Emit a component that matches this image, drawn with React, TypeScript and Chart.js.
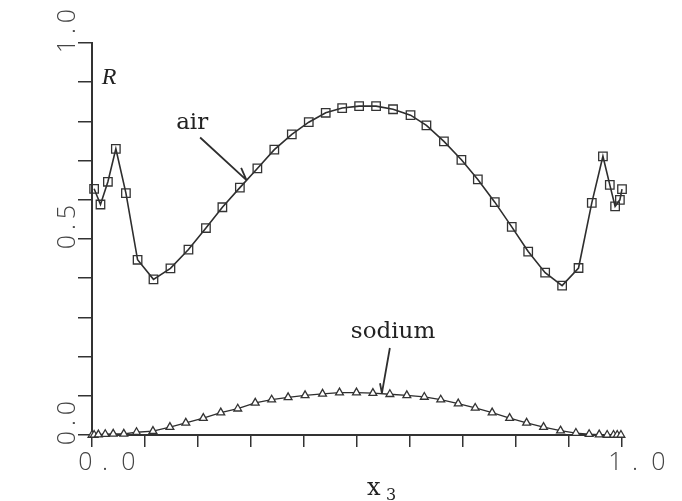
import React, { useEffect, useRef } from "react";
import { Chart, registerables } from "chart.js";

Chart.register(...registerables);

// ---- data ----
const airX = [0.004, 0.016, 0.030, 0.045, 0.064, 0.086, 0.116, 0.148, 0.182, 0.215, 0.246, 0.279, 0.312, 0.344, 0.377, 0.409, 0.441, 0.472, 0.504, 0.536, 0.568, 0.601, 0.631, 0.664, 0.697, 0.728, 0.760, 0.792, 0.823, 0.855, 0.887, 0.918, 0.943, 0.964, 0.977, 0.987, 0.996, 1.0];
const airR = [0.628, 0.588, 0.646, 0.730, 0.617, 0.447, 0.397, 0.425, 0.473, 0.528, 0.581, 0.631, 0.680, 0.728, 0.767, 0.798, 0.822, 0.834, 0.839, 0.839, 0.831, 0.816, 0.790, 0.749, 0.702, 0.652, 0.594, 0.531, 0.468, 0.414, 0.381, 0.426, 0.592, 0.711, 0.638, 0.583, 0.600, 0.627];

const sodiumX = [0.0, 0.004, 0.012, 0.025, 0.040, 0.060, 0.084, 0.115, 0.147, 0.177, 0.210, 0.243, 0.275, 0.308, 0.339, 0.370, 0.402, 0.435, 0.467, 0.499, 0.530, 0.562, 0.594, 0.627, 0.658, 0.691, 0.723, 0.755, 0.788, 0.820, 0.852, 0.884, 0.913, 0.938, 0.957, 0.972, 0.984, 0.991, 0.998];
const sodiumR = [0.0, 0.0, 0.001, 0.002, 0.003, 0.003, 0.007, 0.010, 0.020, 0.031, 0.043, 0.057, 0.067, 0.082, 0.090, 0.096, 0.101, 0.105, 0.108, 0.108, 0.107, 0.104, 0.101, 0.097, 0.090, 0.080, 0.069, 0.057, 0.043, 0.031, 0.020, 0.011, 0.005, 0.002, 0.001, 0.0, 0.0, 0.0, 0.0];

const xLabelValues = [0, 1];
const xLabelTexts = ["0.0", "1.0"];
const yLabelValues = [0, 0.5, 1];
const yLabelTexts = ["0.0", "0.5", "1.0"];

const yTitle = "R";
const xTitle = "x";
const xTitleSub = "3";

// annotations in data units
const airNote = { text: "air", x: 0.189, y: 0.797, tailX: 0.204, tailY: 0.759, tipX: 0.2915, tipY: 0.650 };
const sodiumNote = { text: "sodium", x: 0.568, y: 0.263, tailX: 0.562, tailY: 0.222, tipX: 0.547, tipY: 0.107 };

const INK = "#2e2e2e";

function drawArrow(ctx: CanvasRenderingContext2D, x1: number, y1: number, x2: number, y2: number, barbDeg: number, barbLen: number) {
  ctx.beginPath();
  ctx.moveTo(x1, y1);
  ctx.lineTo(x2, y2);
  const ang = Math.atan2(y1 - y2, x1 - x2) + (barbDeg * Math.PI) / 180;
  ctx.moveTo(x2, y2);
  ctx.lineTo(x2 + Math.cos(ang) * barbLen, y2 + Math.sin(ang) * barbLen);
  ctx.stroke();
}

const overlay = {
  id: "overlay",
  afterDraw(chart: any) {
    const { ctx } = chart;
    const xs = chart.scales.x;
    const ys = chart.scales.y;
    const px = (v: number) => xs.getPixelForValue(v);
    const py = (v: number) => ys.getPixelForValue(v);
    ctx.save();
    ctx.fillStyle = "#444";
    ctx.strokeStyle = INK;

    // x tick labels (plotter style, spaced characters)
    ctx.font = '300 25px "Open Sans", "Roboto", sans-serif';
    ctx.textAlign = "center";
    ctx.textBaseline = "alphabetic";
    const xOffs = [-6.5, 13, 36.5];
    xLabelValues.forEach((v, i) => {
      xLabelTexts[i].split("").forEach((c, j) => {
        ctx.fillText(c, px(v) + xOffs[j], ys.bottom + 35);
      });
    });

    // y tick labels rotated
    const yOffs = [3, -12, -27];
    yLabelValues.forEach((v, i) => {
      yLabelTexts[i].split("").forEach((c, j) => {
        ctx.save();
        ctx.translate(xs.left - 17, py(v) + yOffs[j]);
        ctx.rotate(-Math.PI / 2);
        ctx.fillText(c, 0, 0);
        ctx.restore();
      });
    });

    // axis titles
    ctx.fillStyle = "#222";
    ctx.font = 'italic 24px "Liberation Serif", serif';
    ctx.fillText(yTitle, px(0.032), py(0.915) + 8);
    ctx.font = '24px "DejaVu Serif", serif';
    ctx.textAlign = "left";
    ctx.fillText(xTitle, 367, 495);
    ctx.font = '16px "DejaVu Serif", serif';
    ctx.fillText(xTitleSub, 386, 500);

    // annotations
    ctx.textAlign = "center";
    ctx.textBaseline = "middle";
    ctx.font = '23px "DejaVu Serif", serif';
    ctx.fillText(airNote.text, px(airNote.x), py(airNote.y));
    ctx.fillText(sodiumNote.text, px(sodiumNote.x), py(sodiumNote.y));
    ctx.lineWidth = 1.8;
    drawArrow(ctx, px(airNote.tailX), py(airNote.tailY), px(airNote.tipX), py(airNote.tipY), 24, 13.5);
    drawArrow(ctx, px(sodiumNote.tailX), py(sodiumNote.tailY), px(sodiumNote.tipX), py(sodiumNote.tipY), -21, 10);
    ctx.restore();
  },
};

export default function App() {
  const ref = useRef<HTMLCanvasElement | null>(null);
  useEffect(() => {
    if (!ref.current) return;
    const chart = new Chart(ref.current, {
      type: "scatter",
      data: {
        datasets: [
          {
            label: "air",
            data: airX.map((x, i) => ({ x, y: airR[i] })),
            showLine: true,
            borderColor: INK,
            borderWidth: 1.6,
            pointStyle: "rect",
            pointRadius: 6,
            pointBorderWidth: 1.3,
            pointBorderColor: "#333",
            pointBackgroundColor: "rgba(0,0,0,0)",
            tension: 0,
            clip: false,
          } as any,
          {
            label: "sodium",
            data: sodiumX.map((x, i) => ({ x, y: sodiumR[i] })),
            showLine: true,
            borderColor: INK,
            borderWidth: 1.3,
            pointStyle: "triangle",
            pointRadius: 4.5,
            pointBorderWidth: 1.3,
            pointBorderColor: "#333",
            pointBackgroundColor: "#ffffff",
            tension: 0,
            clip: false,
          } as any,
        ],
      },
      options: {
        responsive: false,
        animation: false,
        events: [],
        layout: { padding: { left: 78, right: 60, top: 43, bottom: 54 } },
        plugins: { legend: { display: false }, tooltip: { enabled: false } },
        scales: {
          x: {
            type: "linear",
            min: 0,
            max: 1,
            ticks: { display: false, stepSize: 0.1 },
            grid: { drawOnChartArea: false, drawTicks: true, tickLength: 12, color: "#333", lineWidth: 1.5 },
            border: { display: true, color: "#333", width: 2 },
            afterFit: (s: any) => {
              s.height = 12;
            },
          },
          y: {
            type: "linear",
            min: 0,
            max: 1,
            ticks: { display: false, stepSize: 0.1 },
            grid: { drawOnChartArea: false, drawTicks: true, tickLength: 14, color: "#333", lineWidth: 1.5 },
            border: { display: true, color: "#333", width: 2 },
            afterFit: (s: any) => {
              s.width = 14;
            },
          },
        },
      } as any,
      plugins: [overlay],
    });
    return () => chart.destroy();
  }, []);
  return (
    <div style={{ position: "absolute", left: 0, top: 0, width: 682, height: 501, background: "#fff" }}>
      <canvas ref={ref} width={682} height={501} style={{ display: "block" }} />
    </div>
  );
}
